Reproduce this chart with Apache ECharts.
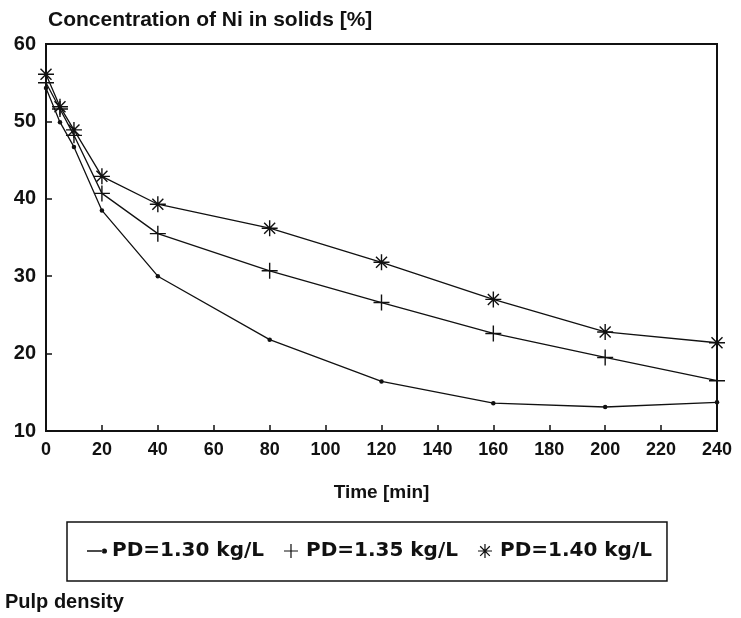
<!DOCTYPE html>
<html>
<head>
<meta charset="utf-8">
<script src="https://cdn.jsdelivr.net/npm/echarts@6/dist/echarts.min.js"></script>
<style>
  html, body { margin: 0; padding: 0; background: #fff; }
  #chart { width: 741px; height: 618px; }
</style>
</head>
<body>
<div id="chart"></div>
<script>
// ---- data ----
const times = [0, 5, 10, 20, 40, 80, 120, 160, 200, 240];
const pd130 = [54.3, 49.9, 46.7, 38.5, 30.0, 21.8, 16.4, 13.6, 13.1, 13.7];
const pd135 = [55.0, 51.6, 48.2, 40.7, 35.5, 30.7, 26.6, 22.6, 19.5, 16.5];
const pd140 = [56.1, 51.9, 48.9, 42.9, 39.3, 36.2, 31.8, 27.0, 22.8, 21.4];
const seriesNames = ['PD=1.30 kg/L', 'PD=1.35 kg/L', 'PD=1.40 kg/L'];
const xTicks = { min: 0, max: 240, step: 20 };
const yTicks = { min: 10, max: 60, step: 10 };
const yTitle = 'Concentration of Ni in solids [%]';
const xTitle = 'Time [min]';
const footText = 'Pulp density';

// ---- symbols ----
const plusPath = 'path://M-0.7,-8 L0.7,-8 L0.7,8 L-0.7,8 Z M-8,-0.7 L8,-0.7 L8,0.7 L-8,0.7 Z';
const starPath = 'path://M-0.7,-8 L0.7,-8 L0.7,8 L-0.7,8 Z M-8,-0.7 L8,-0.7 L8,0.7 L-8,0.7 Z ' +
  'M-5,-6 L6,5 L5,6 L-6,-5 Z M-6,5 L5,-6 L6,-5 L-5,6 Z';
const dotLegendPath = 'path://M0,-0.6 L13,-0.6 L13,0.6 L0,0.6 Z ' +
  'M12.6,0 A2.2,2.2 0 1,0 17,0 A2.2,2.2 0 1,0 12.6,0 Z';

function pairs(xs, ys) { return xs.map((x, i) => [x, ys[i]]); }

const chart = echarts.init(document.getElementById('chart'), null, { renderer: 'canvas' });
const ink = '#111';
const baseFont = 'Liberation Sans, Arial, sans-serif';

function lineSeries(name, data, symbol, size) {
  return {
    name: name,
    type: 'line',
    data: data,
    symbol: symbol,
    symbolSize: size,
    showAllSymbol: true,
    lineStyle: { color: ink, width: 1.3 },
    itemStyle: { color: ink, borderWidth: 0 },
    emphasis: { disabled: true },
    animation: false,
    z: 3
  };
}

chart.setOption({
  animation: false,
  backgroundColor: '#fff',
  title: [
    { text: yTitle, left: 43, top: 5,
      textStyle: { fontFamily: baseFont, fontSize: 21, fontWeight: 'bold', color: ink } },
    { text: footText, left: 0, top: 587,
      textStyle: { fontFamily: baseFont, fontSize: 20, fontWeight: 'bold', color: ink } }
  ],
  grid: {
    left: 46, right: 24, top: 44, bottom: 187,
    show: true, borderColor: ink, borderWidth: 2, backgroundColor: 'transparent'
  },
  legend: {
    left: 67, top: 522,
    padding: [19, 15, 20, 20],
    itemGap: 20,
    itemWidth: 20, itemHeight: 14,
    symbolKeepAspect: true,
    borderColor: ink, borderWidth: 1.5,
    data: [
      { name: seriesNames[0], icon: dotLegendPath },
      { name: seriesNames[1], icon: plusPath },
      { name: seriesNames[2], icon: starPath }
    ],
    textStyle: { fontFamily: 'DejaVu Sans', fontSize: 20, fontWeight: 'bold', color: ink }
  },
  xAxis: {
    type: 'value', min: xTicks.min, max: xTicks.max, interval: xTicks.step,
    name: xTitle, nameLocation: 'middle', nameGap: 52,
    nameTextStyle: { fontFamily: baseFont, fontSize: 19, fontWeight: 'bold', color: ink },
    axisLine: { show: true, lineStyle: { color: ink, width: 2 } },
    axisTick: { show: true, inside: true, length: 6, lineStyle: { color: ink, width: 1.5 } },
    axisLabel: { margin: 10, fontFamily: baseFont, fontSize: 18, fontWeight: 'bold', color: ink },
    splitLine: { show: false }
  },
  yAxis: {
    type: 'value', min: yTicks.min, max: yTicks.max, interval: yTicks.step,
    axisLine: { show: true, lineStyle: { color: ink, width: 2 } },
    axisTick: { show: true, inside: true, length: 6, lineStyle: { color: ink, width: 1.5 } },
    axisLabel: { margin: 10, fontFamily: baseFont, fontSize: 20, fontWeight: 'bold', color: ink },
    splitLine: { show: false }
  },
  series: [
    lineSeries(seriesNames[0], pairs(times, pd130), 'circle', 4.5),
    lineSeries(seriesNames[1], pairs(times, pd135), plusPath, 16),
    lineSeries(seriesNames[2], pairs(times, pd140), starPath, 16)
  ]
});
</script>
</body>
</html>
